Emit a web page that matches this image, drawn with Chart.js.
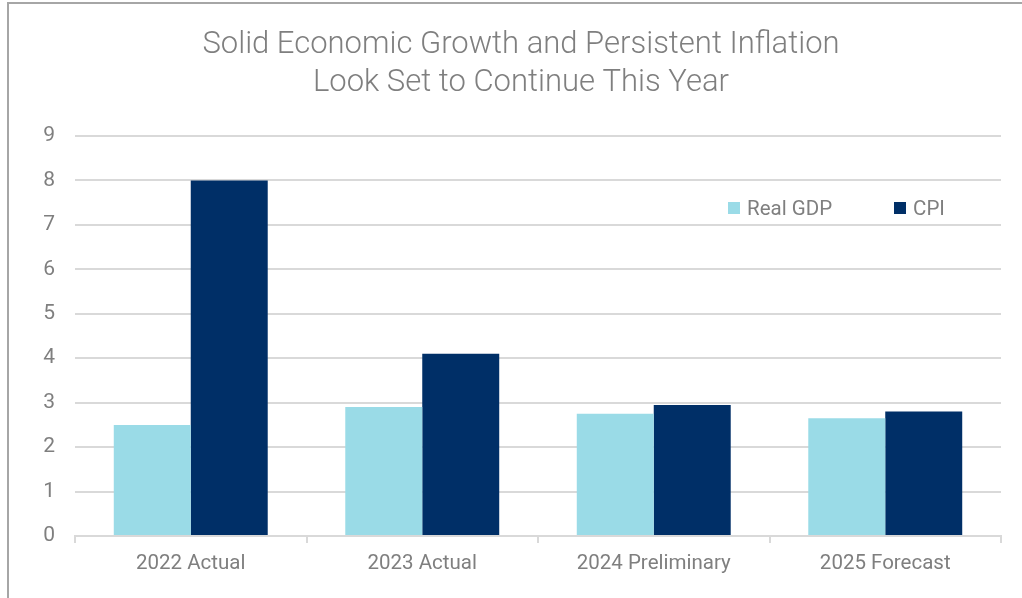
<!DOCTYPE html>
<html>
<head>
<meta charset="utf-8">
<script src="https://cdn.jsdelivr.net/npm/chart.js@4"></script>
<style>
  html, body { margin: 0; padding: 0; background: #ffffff; }
  #wrap { position: relative; width: 1022px; height: 598px; overflow: hidden; background: #ffffff; }
  #frame { position: absolute; left: 7px; top: 2px; width: 1100px; height: 700px;
           border-top: 2px solid #a6a6a6; border-left: 2px solid #a6a6a6; box-sizing: border-box; }
  #chart { position: absolute; left: 0; top: 0; }
  #legend { position: absolute; top: 196px; left: 728px; display: flex; font-family: Roboto, "Liberation Sans", sans-serif;
            font-size: 20.5px; color: #7f7f7f; line-height: 24px; }
  .item { display: flex; align-items: center; }
  .swatch { width: 12px; height: 12px; margin-right: 7px; }
</style>
</head>
<body>
<div id="wrap">
  <div id="frame"></div>
  <canvas id="chart" width="1022" height="598"></canvas>
  <div id="legend"></div>
</div>
<script>
// Annual real GDP growth and CPI inflation, percent
const categories = ['2022 Actual', '2023 Actual', '2024 Preliminary', '2025 Forecast'];
const realGdp = [2.5, 2.9, 2.75, 2.65];
const cpi = [8.0, 4.1, 2.95, 2.8];
const yTicks = [0, 1, 2, 3, 4, 5, 6, 7, 8, 9];
const titleLines = ['Solid Economic Growth and Persistent Inflation', 'Look Set to Continue This Year'];

const LIGHT = '#9adbe7';
const NAVY = '#002f67';
const TEXT = '#7f7f7f';
const GRID = '#d9d9d9';
const FONT = 'Roboto, "Liberation Sans", sans-serif';

const chart = new Chart(document.getElementById('chart'), {
  type: 'bar',
  data: {
    labels: categories,
    datasets: [
      { label: 'Real GDP', data: realGdp, backgroundColor: LIGHT, borderWidth: 0,
        categoryPercentage: 0.665, barPercentage: 1.0 },
      { label: 'CPI', data: cpi, backgroundColor: NAVY, borderWidth: 0,
        categoryPercentage: 0.665, barPercentage: 1.0 }
    ]
  },
  options: {
    responsive: false,
    animation: false,
    devicePixelRatio: 1,
    layout: { padding: { left: 41, right: 21, top: 0, bottom: 0 } },
    plugins: {
      legend: { display: false },
      tooltip: { enabled: false },
      title: {
        display: true,
        text: titleLines,
        color: TEXT,
        font: { family: FONT, size: 31, weight: '300', lineHeight: 1.226 },
        padding: { top: 26, bottom: 34 }
      }
    },
    scales: {
      x: {
        grid: { display: true, drawOnChartArea: false, drawTicks: true, tickLength: 7, color: GRID, lineWidth: 2 },
        border: { display: true, color: GRID, width: 2 },
        ticks: { color: TEXT, font: { family: FONT, size: 20.5 }, padding: 9 },
        afterFit: (s) => { s.height = 62; }
      },
      y: {
        min: 0, max: 9,
        afterBuildTicks: (s) => { s.ticks = yTicks.map(v => ({ value: v })); },
        grid: { color: GRID, lineWidth: 2, drawTicks: false },
        border: { display: false },
        ticks: { color: TEXT, font: { family: FONT, size: 21 }, padding: 20 },
        afterFit: (s) => { s.width = 34; }
      }
    }
  }
});

// HTML legend built from the chart's own legend items
const legendEl = document.getElementById('legend');
const items = Chart.defaults.plugins.legend.labels.generateLabels(chart);
items.forEach((it, i) => {
  const d = document.createElement('div');
  d.className = 'item';
  d.style.marginRight = i === 0 ? '62px' : '0';
  const sw = document.createElement('span');
  sw.className = 'swatch';
  sw.style.background = it.fillStyle;
  const t = document.createElement('span');
  t.textContent = it.text;
  d.appendChild(sw); d.appendChild(t);
  legendEl.appendChild(d);
});
</script>
</body>
</html>
